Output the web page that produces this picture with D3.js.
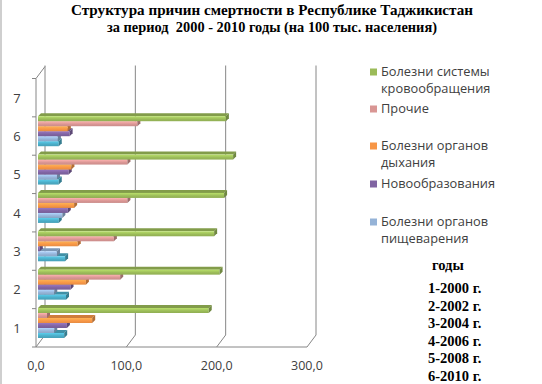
<!DOCTYPE html>
<html><head><meta charset="utf-8">
<script src="https://cdn.jsdelivr.net/npm/d3@7"></script>
<style>body{margin:0;background:#fff}svg{display:block}text{white-space:pre}</style>
</head><body>
<script>
const categories = ["1","2","3","4","5","6","7"];
const xTicks = [0,100,200,300];
const seriesNames = ["", "Болезни органов пищеварения", "Новообразования", "Болезни органов дыхания", "Прочие", "Болезни системы кровообращения"];
const seriesColors = ["#4BACC6", "#95B3D7", "#8064A2", "#F79646", "#D99694", "#9BBB59"];
const teal      = [29, 31, 30, 23, 23, 23];
const digestive = [18, 18, 21, 27, 21, 22];
const neoplasm  = [32, 36, 2, 33, 34, 35];
const resp      = [60, 53, 44, 40, 37, 33];
const other     = [10, 91, 84, 99, 99, 110];
const circ      = [189, 201, 195, 206, 216, 208];
const seriesValues = [teal, digestive, neoplasm, resp, other, circ];
const legendOrder = [5, 4, 3, 2, 1];
const titleLines = ["Структура причин смертности в Республике Таджикистан", "за период  2000 - 2010 годы (на 100 тыс. населения)"];
const yearNotes = ["годы", "1-2000 г.", "2-2002 г.", "3-2004 г.", "4-2006 г.", "5-2008 г.", "6-2010 г."];

const W = 542, H = 384;
const svg = d3.select("body").append("svg").attr("width", W).attr("height", H);
svg.append("rect").attr("width", W).attr("height", H).attr("fill", "#fff");
svg.append("rect").attr("x", 0).attr("y", 0).attr("width", 2).attr("height", H).attr("fill", "#cfcfcf");

const x = d3.scaleLinear().domain([0, 300]).range([36, 307]);
const y = d3.scaleBand().domain(categories).range([347, 78.5]);
const DX = 9, DY = -12; // back-wall depth
const gridC = "#868686";

const defs = svg.append("defs");
seriesColors.forEach((c, i) => {
  const lg = defs.append("linearGradient").attr("id", "g" + i).attr("x1", 0).attr("y1", 0).attr("x2", 0).attr("y2", 1);
  lg.append("stop").attr("offset", "0%").attr("stop-color", d3.color(c).brighter(0.5));
  lg.append("stop").attr("offset", "60%").attr("stop-color", c);
  lg.append("stop").attr("offset", "100%").attr("stop-color", d3.color(c).darker(0.2));
});

// walls / gridlines
const g = svg.append("g");
xTicks.forEach(t => {
  g.append("line").attr("x1", x(t) + DX).attr("x2", x(t) + DX)
    .attr("y1", 347 + DY).attr("y2", 78.5 + DY - 1).attr("stroke", gridC).attr("stroke-width", 1);
  g.append("line").attr("x1", x(t)).attr("y1", 347).attr("x2", x(t) + DX).attr("y2", 347 + DY)
    .attr("stroke", gridC);
});
g.append("line").attr("x1", x(0)).attr("x2", x(300)).attr("y1", 347).attr("y2", 347).attr("stroke", gridC);
g.append("line").attr("x1", x(0)).attr("x2", x(0)).attr("y1", 347).attr("y2", 78.5).attr("stroke", gridC);
g.append("line").attr("x1", x(0)).attr("y1", 78.5).attr("x2", x(0) + DX).attr("y2", 78.5 + DY).attr("stroke", gridC);
const ticksY = categories.map(c => y(c)).concat([347]);
ticksY.forEach(t => g.append("line").attr("x1", x(0) - 4).attr("x2", x(0)).attr("y1", t).attr("y2", t).attr("stroke", gridC));

// category labels
svg.append("g").selectAll("text").data(categories).join("text")
  .attr("x", 17).attr("y", c => y(c) + y.bandwidth() / 2 + 5)
  .attr("text-anchor", "middle").attr("font-family", "Open Sans, sans-serif")
  .attr("font-size", 13).attr("fill", "#404040").text(d => d);

// x tick labels
svg.append("g").selectAll("text").data(xTicks).join("text")
  .attr("x", d => x(d)).attr("y", 370).attr("text-anchor", "middle")
  .attr("font-family", "Open Sans, sans-serif").attr("font-size", 12.5).attr("fill", "#404040")
  .text(d => d3.format(".1f")(d).replace(".", ","));

// bars
const barH = 5, dep = 3, offX = 2, offY = -4;
const bars = svg.append("g");
categories.slice(0, 6).forEach((c, ci) => {
  const bottom = y(c) + y.bandwidth();
  seriesValues.forEach((vals, si) => {
    const v = vals[ci];
    const col = d3.color(seriesColors[si]);
    const x0 = x(0) + offX, x1 = x(v) + offX;
    const yT = bottom + offY - 5 - (si + 1) * barH;
    const yB = yT + barH;
    bars.append("polygon")
      .attr("points", [[x0, yT], [x0 + dep, yT - dep], [x1 + dep, yT - dep], [x1, yT]].join(" "))
      .attr("fill", col.darker(0.5));
    bars.append("rect").attr("x", x0).attr("y", yT).attr("width", Math.max(0, x1 - x0)).attr("height", barH)
      .attr("fill", `url(#g${si})`);
    bars.append("polygon")
      .attr("points", [[x1, yT], [x1 + dep, yT - dep], [x1 + dep, yB - dep], [x1, yB]].join(" "))
      .attr("fill", col.darker(0.9));
  });
});

// title
const titleW = [402, 330];
svg.append("g").selectAll("text").data(titleLines).join("text")
  .attr("x", 272).attr("y", (d, i) => 15 + i * 17).attr("text-anchor", "middle")
  .attr("font-family", "Liberation Serif, serif").attr("font-weight", "bold").attr("font-size", 15)
  .attr("textLength", (d, i) => titleW[i]).attr("lengthAdjust", "spacingAndGlyphs")
  .attr("fill", "#000").text(d => d);

// legend
const legendLines = {5: ["Болезни системы", "кровообращения"], 4: ["Прочие"], 3: ["Болезни органов", "дыхания"], 2: ["Новообразования"], 1: ["Болезни органов", "пищеварения"]};
const legendY = [76, 113, 150, 188, 226];
const lgG = svg.append("g");
legendOrder.forEach((si, k) => {
  const yy = legendY[k];
  lgG.append("rect").attr("x", 370).attr("y", yy - 7.5).attr("width", 7).attr("height", 7).attr("fill", seriesColors[si]);
  legendLines[si].forEach((t, j) => lgG.append("text").attr("x", 381).attr("y", yy + j * 16.5)
    .attr("font-family", "Open Sans, sans-serif").attr("font-size", 12.8).attr("fill", "#404040").text(t));
});

// year notes
svg.append("g").selectAll("text").data(yearNotes).join("text")
  .attr("x", (d, i) => i === 0 ? 432 : 428)
  .attr("y", (d, i) => i === 0 ? 270 : 293 + (i - 1) * 17.6)
  .attr("font-family", "Liberation Serif, serif").attr("font-weight", "bold").attr("font-size", 14.5)
  .attr("fill", "#000").text(d => d);
</script>
</body></html>
